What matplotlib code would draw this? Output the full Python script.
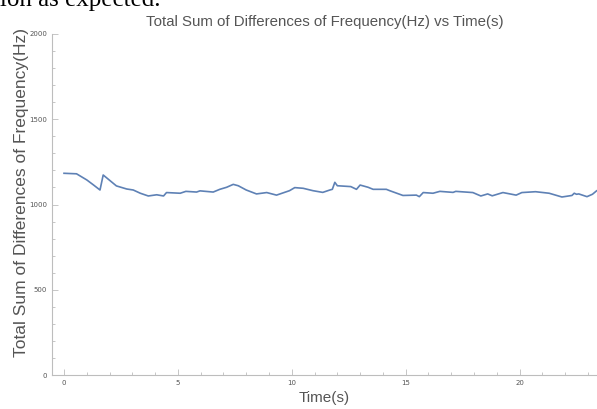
import matplotlib.pyplot as plt
from matplotlib.ticker import MultipleLocator

# tiempo (s) y suma total de diferencias de frecuencia (Hz)
time_s = [0.0, 0.55, 1.0, 1.3, 1.58, 1.72, 2.3, 2.75, 3.04, 3.35, 3.7, 4.07, 4.37,
          4.5, 5.1, 5.35, 5.82, 5.97, 6.55, 6.84, 7.14, 7.43, 7.65, 8.0, 8.45,
          8.9, 9.33, 9.9, 10.13, 10.5, 10.93, 11.36, 11.67, 11.78, 11.89, 12.0,
          12.59, 12.84, 13.0, 13.35, 13.57, 14.15, 14.3, 14.88, 15.47, 15.6,
          15.77, 16.2, 16.5, 17.08, 17.2, 17.95, 18.3, 18.6, 18.8, 19.27, 19.85,
          20.1, 20.7, 21.3, 21.86, 22.3, 22.4, 22.5, 22.6, 22.96, 23.2, 23.38]
total_diff = [1183, 1180, 1144, 1114, 1085, 1173, 1109, 1091, 1085, 1066, 1050, 1057, 1050,
              1070, 1066, 1077, 1073, 1080, 1073, 1089, 1101, 1118, 1110, 1085, 1062,
              1070, 1055, 1081, 1099, 1095, 1081, 1071, 1085, 1089, 1130, 1110,
              1105, 1089, 1114, 1101, 1089, 1089, 1081, 1053, 1055, 1046,
              1070, 1066, 1077, 1071, 1077, 1070, 1050, 1062, 1051, 1070, 1055,
              1070, 1075, 1066, 1044, 1053, 1066, 1060, 1062, 1046, 1060, 1080]

gris = '#bdbdbd'
texto = '#555555'

fig = plt.figure(figsize=(5.97, 4.09), dpi=100)
ax = fig.add_axes([0.087, 0.083, 0.913, 0.834])

ax.plot(time_s, total_diff, color='#5e81b5', linewidth=1.2)

ax.set_xlim(-0.53, 23.4)
ax.set_ylim(0, 2000)
ax.xaxis.set_major_locator(MultipleLocator(5))
ax.xaxis.set_minor_locator(MultipleLocator(1))
ax.yaxis.set_major_locator(MultipleLocator(500))
ax.yaxis.set_minor_locator(MultipleLocator(100))

for s in ['top', 'right']:
    ax.spines[s].set_visible(False)
for s in ['left', 'bottom']:
    ax.spines[s].set_color(gris)
    ax.spines[s].set_linewidth(0.8)

ax.tick_params(which='both', direction='in', colors=gris, labelcolor=texto,
               labelsize=5, width=0.6)
ax.tick_params(which='major', length=4)
ax.tick_params(which='minor', length=2)

ax.set_title('Total Sum of Differences of Frequency(Hz) vs Time(s)',
             fontsize=10.8, color=texto, family='Liberation Sans', pad=6)
ax.set_xlabel('Time(s)', fontsize=11, color=texto, family='Liberation Sans', labelpad=4)
ax.set_ylabel('Total Sum of Differences of Frequency(Hz)', fontsize=12.5,
              color=texto, family='Liberation Sans')
ax.yaxis.set_label_coords(-0.042, 0.535)

# texto del documento cortado arriba
fig.text(-0.012, 1.0, 'tion as expected.', fontsize=18, family='Liberation Serif',
         color='black', va='center', ha='left')

fig.savefig('out.png', dpi=100)
